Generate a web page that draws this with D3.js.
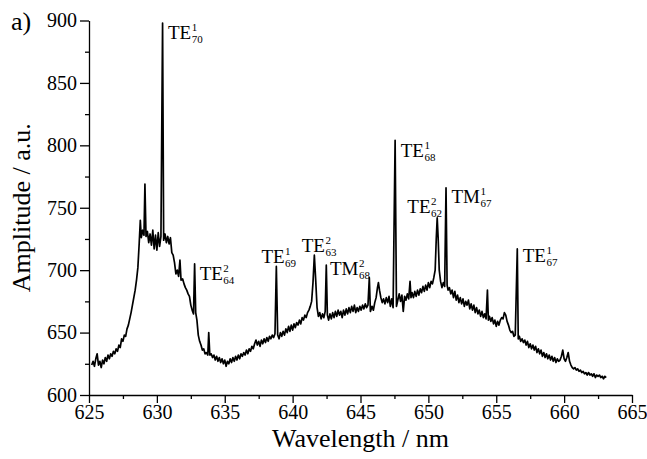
<!DOCTYPE html>
<html>
<head>
<meta charset="utf-8">
<script src="https://cdn.jsdelivr.net/npm/d3@7"></script>
<style>
  html, body { margin: 0; padding: 0; background: #fff; }
  svg { display: block; }
  svg text { font-family: 'Liberation Serif', 'Times New Roman', Times, 'DejaVu Serif', serif !important; fill: #000; }
</style>
</head>
<body>
<svg id="chart" width="647" height="459"></svg>
<script>
// Measured emission spectrum: [wavelength (nm), amplitude (a.u.)]
const spectrum = [
  [625.2,624],[625.3,627],[625.4,623],[625.5,629],[625.6,633],[625.7,624],[625.8,627],[625.9,622],
  [626.0,628],[626.1,625],[626.2,630],[626.3,627],[626.4,632],[626.5,629],[626.6,633],[626.7,631],
  [626.8,635],[626.9,633],[627.0,637],[627.1,635],[627.2,640],[627.3,638],[627.4,645],[627.5,643],
  [627.6,648],[627.7,647],[627.8,653],[627.9,656],[628.0,661],[628.1,666],[628.2,672],[628.3,678],
  [628.4,684],[628.5,692],[628.6,702],[628.7,722],[628.78,740],[628.85,726],[628.95,732],[629.05,728],
  [629.12,769],[629.2,727],[629.3,731],[629.4,722],[629.5,729],[629.6,720],[629.7,732],[629.8,717],
  [629.9,728],[630.0,716],[630.1,730],[630.2,719],[630.3,727],[630.42,898],[630.5,724],[630.6,729],
  [630.7,722],[630.8,727],[630.9,721],[631.0,726],[631.1,714],[631.2,712],[631.3,706],[631.4,697],
  [631.5,700],[631.6,695],[631.7,708],[631.78,692],[631.9,693],[632.0,689],[632.1,686],[632.2,684],
  [632.3,681],[632.4,679],[632.5,672],[632.6,668],[632.7,665],[632.78,705],[632.86,666],[632.95,660],
  [633.05,648],[633.15,643],[633.25,640],[633.35,636],[633.45,637],[633.55,633],[633.65,634],[633.75,632],
  [633.82,650],[633.9,632],[634.0,633],[634.1,630],[634.2,632],[634.3,628],[634.4,631],[634.5,627],
  [634.6,630],[634.7,626],[634.8,629],[634.9,625],[635.0,628],[635.1,623],[635.2,627],[635.3,625],
  [635.4,629],[635.5,626],[635.6,630],[635.7,627],[635.8,631],[635.9,628],[636.0,632],[636.1,629],
  [636.2,633],[636.3,631],[636.4,634],[636.5,632],[636.6,636],[636.7,633],[636.8,637],[636.9,635],
  [637.0,639],[637.1,637],[637.2,641],[637.3,644],[637.4,640],[637.5,643],[637.6,639],[637.7,644],
  [637.8,641],[637.9,645],[638.0,642],[638.1,646],[638.2,643],[638.3,647],[638.4,645],[638.5,648],
  [638.6,646],[638.7,649],[638.8,703],[638.9,648],[639.0,645],[639.1,650],[639.2,647],[639.3,651],
  [639.4,648],[639.5,653],[639.6,650],[639.7,655],[639.8,651],[639.9,656],[640.0,652],[640.1,657],
  [640.2,654],[640.3,658],[640.4,656],[640.5,660],[640.6,657],[640.7,662],[640.8,660],[640.9,664],
  [641.0,662],[641.1,666],[641.2,668],[641.3,671],[641.4,675],[641.5,690],[641.6,712],[641.7,692],
  [641.8,670],[641.9,663],[642.0,666],[642.1,661],[642.2,665],[642.3,662],[642.4,667],[642.48,704],
  [642.56,664],[642.65,660],[642.75,665],[642.85,661],[642.95,666],[643.05,662],[643.15,667],[643.25,663],
  [643.35,668],[643.45,664],[643.55,667],[643.65,662],[643.75,668],[643.85,664],[643.95,669],[644.05,665],
  [644.15,670],[644.25,666],[644.35,671],[644.45,667],[644.55,672],[644.65,666],[644.75,670],[644.85,667],
  [644.95,671],[645.05,668],[645.15,672],[645.25,669],[645.35,673],[645.45,670],[645.55,672],[645.65,694],
  [645.73,667],[645.85,671],[645.95,668],[646.05,674],[646.15,678],[646.25,686],[646.32,690],[646.4,684],
  [646.5,678],[646.6,674],[646.7,677],[646.8,673],[646.9,678],[647.0,674],[647.1,679],[647.2,671],
  [647.3,677],[647.4,670],[647.55,804],[647.65,671],[647.75,676],[647.85,681],[647.95,675],[648.05,680],
  [648.15,667],[648.25,679],[648.35,676],[648.45,681],[648.55,677],[648.65,691],[648.72,678],[648.8,682],
  [648.9,678],[649.0,683],[649.1,679],[649.2,684],[649.3,680],[649.4,685],[649.5,682],[649.6,687],
  [649.7,683],[649.8,688],[649.9,684],[650.0,690],[650.1,686],[650.2,691],[650.3,689],[650.4,694],
  [650.5,700],[650.58,725],[650.65,742],[650.72,726],[650.8,700],[650.9,691],[651.0,686],[651.1,690],
  [651.2,687],[651.3,766],[651.38,688],[651.45,684],[651.55,686],[651.65,681],[651.75,684],[651.85,678],
  [651.95,683],[652.05,676],[652.15,680],[652.25,674],[652.35,678],[652.45,673],[652.55,677],[652.65,671],
  [652.75,675],[652.85,672],[652.95,676],[653.05,669],[653.15,673],[653.25,668],[653.35,672],[653.45,666],
  [653.55,670],[653.65,665],[653.75,668],[653.85,663],[653.95,667],[654.05,662],[654.15,665],[654.25,661],
  [654.35,684],[654.42,660],[654.5,663],[654.6,659],[654.7,662],[654.8,657],[654.9,660],[655.0,655],
  [655.1,659],[655.2,656],[655.3,660],[655.4,662],[655.5,661],[655.6,666],[655.7,664],[655.8,659],
  [655.9,656],[656.0,652],[656.1,650],[656.2,651],[656.3,647],[656.4,648],[656.55,717],[656.62,645],
  [656.7,647],[656.8,643],[656.9,645],[657.0,642],[657.1,644],[657.2,640],[657.3,643],[657.4,638],
  [657.5,641],[657.6,637],[657.7,640],[657.8,636],[657.9,639],[658.0,634],[658.1,637],[658.2,633],
  [658.3,636],[658.4,631],[658.5,634],[658.6,630],[658.7,633],[658.8,629],[658.9,632],[659.0,628],
  [659.1,631],[659.2,627],[659.3,630],[659.4,626],[659.5,629],[659.6,627],[659.7,628],[659.8,631],
  [659.9,636],[660.0,629],[660.1,627],[660.2,630],[660.3,634],[660.4,627],[660.5,624],[660.6,622],
  [660.7,621],[660.8,622],[660.9,620],[661.0,621],[661.1,619],[661.2,620],[661.3,618],[661.4,619],
  [661.5,617],[661.6,618],[661.7,616],[661.8,618],[661.9,616],[662.0,617],[662.1,615],[662.2,617],
  [662.3,614],[662.4,616],[662.5,615],[662.6,616],[662.7,614],[662.8,615],[662.9,613],[663.0,615],
  [663.1,614]
];

// Axis ticks
const xTicks = [625, 630, 635, 640, 645, 650, 655, 660, 665];
const xMinorTicks = [627.5, 632.5, 637.5, 642.5, 647.5, 652.5, 657.5, 662.5];
const yTicks = [600, 650, 700, 750, 800, 850, 900];
const yMinorTicks = [625, 675, 725, 775, 825, 875];

// Mode labels: mode family, radial order (sup), azimuthal number (sub), anchor in data units
const modeNames = ["TE", "TE", "TE", "TE", "TM", "TE", "TE", "TM", "TE"];
const modeSup   = ["1", "2", "1", "2", "2", "1", "2", "1", "1"];
const modeSub   = ["70", "64", "69", "63", "68", "68", "62", "67", "67"];
const modeNm    = [630.82, 633.15, 637.7, 640.67, 642.75, 647.96, 648.45, 651.7, 656.95];
const modeAmp   = [885, 692, 705.8, 714.6, 696, 790.7, 746, 754, 706.6];

const FONT = "'Liberation Serif', 'Times New Roman', Times, 'DejaVu Serif', serif";

const svg = d3.select("#chart");

const x = d3.scaleLinear().domain([625, 665]).range([89, 632]);
const y = d3.scaleLinear().domain([600, 900]).range([395, 20.5]);

// Axes
const gx = svg.append("g").attr("transform", `translate(0,${y(600)})`);
gx.call(d3.axisBottom(x).tickValues(xTicks).tickFormat(d3.format("d")).tickSizeInner(8).tickSizeOuter(0).tickPadding(2));
const gxm = svg.append("g").attr("transform", `translate(0,${y(600)})`);
gxm.call(d3.axisBottom(x).tickValues(xMinorTicks).tickFormat("").tickSizeInner(4).tickSizeOuter(0));
gxm.select(".domain").remove();

const gy = svg.append("g").attr("transform", `translate(${x(625)},0)`);
gy.call(d3.axisLeft(y).tickValues(yTicks).tickFormat(d3.format("d")).tickSizeInner(9).tickSizeOuter(0).tickPadding(3));
const gym = svg.append("g").attr("transform", `translate(${x(625)},0)`);
gym.call(d3.axisLeft(y).tickValues(yMinorTicks).tickFormat("").tickSizeInner(4).tickSizeOuter(0));
gym.select(".domain").remove();

svg.selectAll("g").attr("font-family", FONT);
svg.selectAll(".domain, .tick line").attr("stroke", "#000").attr("stroke-width", 1.3);
svg.selectAll(".tick text")
  .style("font-family", FONT)
  .attr("font-size", 20)
  .attr("fill", "#000");

// Axis titles
svg.append("text")
  .attr("x", (x(625) + x(665)) / 2)
  .attr("y", 447)
  .attr("text-anchor", "middle")
  .style("font-family", FONT)
  .attr("font-size", 26)
  .text("Wavelength / nm");

svg.append("text")
  .attr("transform", `translate(30,${(y(600) + y(900)) / 2}) rotate(-90)`)
  .attr("text-anchor", "middle")
  .style("font-family", FONT)
  .attr("font-size", 26)
  .text("Amplitude / a.u.");

svg.append("text")
  .attr("x", 11)
  .attr("y", 30)
  .style("font-family", FONT)
  .attr("font-size", 26)
  .text("a)");

// Spectrum trace
const line = d3.line().x(d => x(d[0])).y(d => y(d[1]));
svg.append("path")
  .datum(spectrum)
  .attr("fill", "none")
  .attr("stroke", "#000")
  .attr("stroke-width", 1.7)
  .attr("stroke-linejoin", "round")
  .attr("d", line);

// Mode labels with stacked super/subscripts
modeNames.forEach((name, i) => {
  const g = svg.append("g").style("font-family", FONT);
  const bx = x(modeNm[i]), by = y(modeAmp[i]);
  const main = g.append("text").attr("x", bx).attr("y", by).attr("font-size", 19).text(name);
  const w = main.node().getComputedTextLength();
  g.append("text").attr("x", bx + w + 0.5).attr("y", by - 8).attr("font-size", 11).text(modeSup[i]);
  g.append("text").attr("x", bx + w + 0.5).attr("y", by + 4).attr("font-size", 11).text(modeSub[i]);
});
</script>
</body>
</html>
